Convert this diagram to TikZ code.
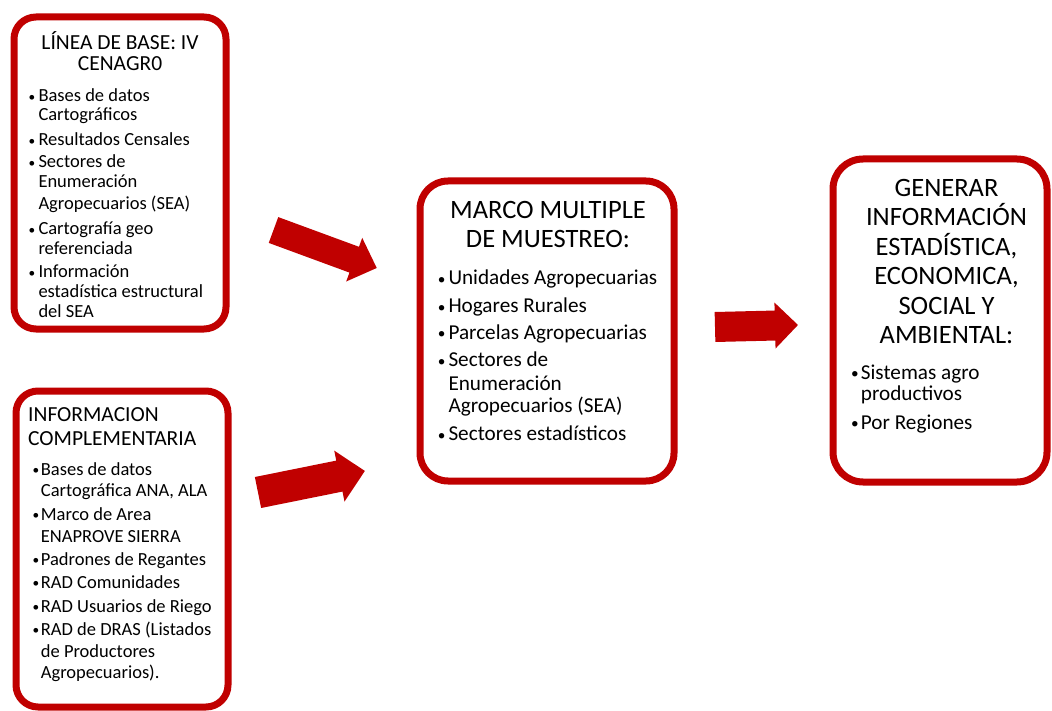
\documentclass[tikz,border=0pt]{standalone}
\usepackage{fontspec}
\setmainfont{Carlito}
\definecolor{boxred}{RGB}{192,0,0}
\newcommand\bul[1]{\llap{\makebox[#1pt][l]{\raisebox{0.02em}{\scalebox{0.72}{\textbullet}}}}}
\newcommand\blkarrow[8]{% name, x, y, angle, length, shaft, headw, headlen
  \begin{scope}[shift={(#2,#3)},rotate=#4]
    \coordinate (#1) at (0,0);
    \fill[boxred] (0,{#6/2}) -- ({#5-#8},{#6/2}) -- ({#5-#8},{#7/2}) -- (#5,0)
      -- ({#5-#8},{-#7/2}) -- ({#5-#8},{-#6/2}) -- (0,{-#6/2}) -- cycle;
  \end{scope}}
\tikzset{
  frame/.style={draw=boxred, line width=7pt, fill=white, inner sep=0pt, rounded corners=#1},
  tA/.style={font=\fontsize{21.5}{21.5}\selectfont, inner sep=0pt, anchor=base},
  tB/.style={font=\fontsize{26.5}{26.5}\selectfont, inner sep=0pt, anchor=base},
  iA/.style={font=\fontsize{18.5}{18.5}\selectfont, inner sep=0pt, anchor=base west},
  iB/.style={font=\fontsize{21.2}{21.2}\selectfont, inner sep=0pt, anchor=base west},
}
\begin{document}
\begin{tikzpicture}[x=1pt,y=-1pt]
\useasboundingbox (0,0) rectangle (1052,711);
\fill[white] (0,0) rectangle (1052,711);

% boxes
\node[frame=22pt, minimum width=212pt, minimum height=312pt] (b1) at (120,173) {};
\node[frame=22pt, minimum width=212pt, minimum height=316pt] (b2) at (122,549) {};
\node[frame=28pt, minimum width=254pt, minimum height=300pt] (b3) at (547,331) {};
\node[frame=30pt, minimum width=214pt, minimum height=323pt] (b4) at (940,320.5) {};

% arrows
\blkarrow{a1}{273.5}{230}{-20.2}{110}{27.5}{46.5}{24}
\blkarrow{a2}{258}{492.5}{11.4}{109}{31.6}{52}{26}
\blkarrow{a3}{715}{327}{1.4}{83}{30}{46}{23}

% box 1
\node[tA] (t1a) at (120,50) {LÍNEA DE BASE: IV};
\node[tA] (t1b) at (120,71) {CENAGR0};
\node[iA] (i1a) at (38.3,101.7) {\bul{10}Bases de datos};
\node[iA] (i1b) at (38.3,120.7) {Cartográficos};
\node[iA] (i1c) at (38.3,145.7) {\bul{10}Resultados Censales};
\node[iA] (i1d) at (38.3,168) {\bul{10}Sectores de};
\node[iA] (i1e) at (38.3,188) {Enumeración};
\node[iA] (i1f) at (38.3,210) {Agropecuarios (SEA)};
\node[iA] (i1g) at (38.3,235) {\bul{10}Cartografía geo};
\node[iA] (i1h) at (38.3,255) {referenciada};
\node[iA] (i1i) at (38.3,278) {\bul{10}Información};
\node[iA] (i1j) at (38.3,298) {estadística estructural};
\node[iA] (i1k) at (38.3,318) {del SEA};

% box 2
\node[tA, anchor=base west] (t2a) at (28,421.7) {INFORMACION};
\node[tA, anchor=base west] (t2b) at (28,445) {COMPLEMENTARIA};
\node[iA] (i2a) at (40.7,475) {\bul{8.4}Bases de datos};
\node[iA] (i2b) at (40.7,496.7) {Cartográfica ANA, ALA};
\node[iA] (i2c) at (40.7,520) {\bul{8.4}Marco de Area};
\node[iA] (i2d) at (40.7,542) {ENAPROVE SIERRA};
\node[iA] (i2e) at (40.7,565) {\bul{8.4}Padrones de Regantes};
\node[iA] (i2f) at (40.7,588) {\bul{8.4}RAD Comunidades};
\node[iA] (i2g) at (40.7,612) {\bul{8.4}RAD Usuarios de Riego};
\node[iA] (i2h) at (40.7,635) {\bul{8.4}RAD de DRAS (Listados};
\node[iA] (i2i) at (40.7,657) {de Productores};
\node[iA] (i2j) at (40.7,678) {Agropecuarios).};

% box 3
\node[tB] (t3a) at (548,218.3) {MARCO MULTIPLE};
\node[tB] (t3b) at (548,247.3) {DE MUESTREO:};
\node[iB] (i3a) at (448.3,285) {\bul{10.6}Unidades Agropecuarias};
\node[iB] (i3b) at (448.3,312.7) {\bul{10.6}Hogares Rurales};
\node[iB] (i3c) at (448.3,339.3) {\bul{10.6}Parcelas Agropecuarias};
\node[iB] (i3d) at (448.3,366.7) {\bul{10.6}Sectores de};
\node[iB] (i3e) at (448.3,390) {Enumeración};
\node[iB] (i3f) at (448.3,412.7) {Agropecuarios (SEA)};
\node[iB] (i3g) at (448.3,440.7) {\bul{10.6}Sectores estadísticos};

% box 4
\node[tB] (t4a) at (946.5,196.7) {GENERAR};
\node[tB] (t4b) at (946.5,226) {INFORMACIÓN};
\node[tB] (t4c) at (946.5,256) {ESTADÍSTICA,};
\node[tB] (t4d) at (946.5,285) {ECONOMICA,};
\node[tB] (t4e) at (946.5,314) {SOCIAL Y};
\node[tB] (t4f) at (946.5,343.3) {AMBIENTAL:};
\node[iB] (i4a) at (860.7,379.3) {\bul{9.7}Sistemas agro};
\node[iB] (i4b) at (860.7,400) {productivos};
\node[iB] (i4c) at (860.7,429.3) {\bul{9.7}Por Regiones};
\end{tikzpicture}
\end{document}
